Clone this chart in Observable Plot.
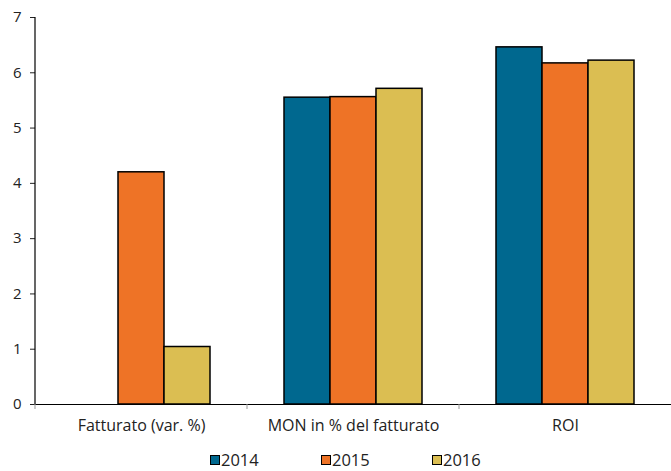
<!DOCTYPE html>
<html><head><meta charset="utf-8">
<script src="https://cdn.jsdelivr.net/npm/d3@7"></script>
<script src="https://cdn.jsdelivr.net/npm/@observablehq/plot@0.6"></script>
<style>
body{margin:0;background:#fff;font-family:"Open Sans",sans-serif;}
#legend{display:flex;padding-left:210px;height:31px;margin-top:4px;align-items:center;font-size:16.5px;color:#222;}
#legend .item{display:flex;align-items:center;width:111px;}
#legend .sw{width:8px;height:8px;border:1.5px solid #000;margin-right:1px;}
</style></head>
<body><div id="chart"></div><div id="legend"></div>
<script>
const categories = ["Fatturato (var. %)", "MON in % del fatturato", "ROI"];
const years = ["2014", "2015", "2016"];
const v2014 = [null, 5.55, 6.46];
const v2015 = [4.2, 5.56, 6.17];
const v2016 = [1.04, 5.71, 6.22];
const colors = ["#00688f", "#ee7326", "#dbbe52"];
const yTicks = [0, 1, 2, 3, 4, 5, 6, 7];

const series = [v2014, v2015, v2016];
const data = [];
categories.forEach((c, i) => years.forEach((y, j) => {
  const v = series[j][i];
  if (v != null) data.push({category: c, year: y, value: v});
}));

const W = 671, H = 440;
const chart = Plot.plot({
  width: W, height: H,
  marginLeft: 34, marginRight: 0, marginTop: 17, marginBottom: 36,
  style: {fontFamily: "Open Sans, sans-serif", fontSize: "14px", color: "#222"},
  fx: {domain: categories, paddingInner: 0, paddingOuter: 0, label: null, axis: null},
  x: {domain: years, paddingInner: 0, paddingOuter: 0.77, axis: null},
  y: {domain: [0, 7], ticks: yTicks, label: null, axis: null},
  color: {domain: years, range: colors},
  marks: [
    Plot.axisY({ticks: yTicks, tickFormat: d3.format("d"), tickSize: 5, tickPadding: 9, label: null, fontSize: 15}),
    Plot.axisFx({anchor: "bottom", tickSize: 0, tickPadding: 15, label: null, fontSize: 16}),
    Plot.barY(data, {fx: "category", x: "year", y: "value", fill: "year", stroke: "#000", strokeWidth: 1.5}),
    Plot.ruleY([0], {stroke: "#000", strokeWidth: 1.2})
  ]
});
document.getElementById("chart").appendChild(chart);

// axis line and category boundary ticks using the plot's own scales
const ys = chart.scale("y"), fxs = chart.scale("fx");
const svg = d3.select(chart);
const y0 = ys.apply(0), y7 = ys.apply(7);
const xl = fxs.apply(categories[0]);
svg.append("line").attr("x1", xl).attr("x2", xl).attr("y1", y7).attr("y2", y0).attr("stroke", "#000").attr("stroke-width", 1.2);
categories.forEach(c => {
  const x = fxs.apply(c);
  svg.append("line").attr("x1", x).attr("x2", x).attr("y1", y0).attr("y2", y0 + 5).attr("stroke", "#999").attr("stroke-width", 1);
});

const lg = d3.select("#legend");
years.forEach((y, i) => {
  const it = lg.append("div").attr("class", "item");
  it.append("div").attr("class", "sw").style("background", colors[i]);
  it.append("span").text(y);
});
</script></body></html>
